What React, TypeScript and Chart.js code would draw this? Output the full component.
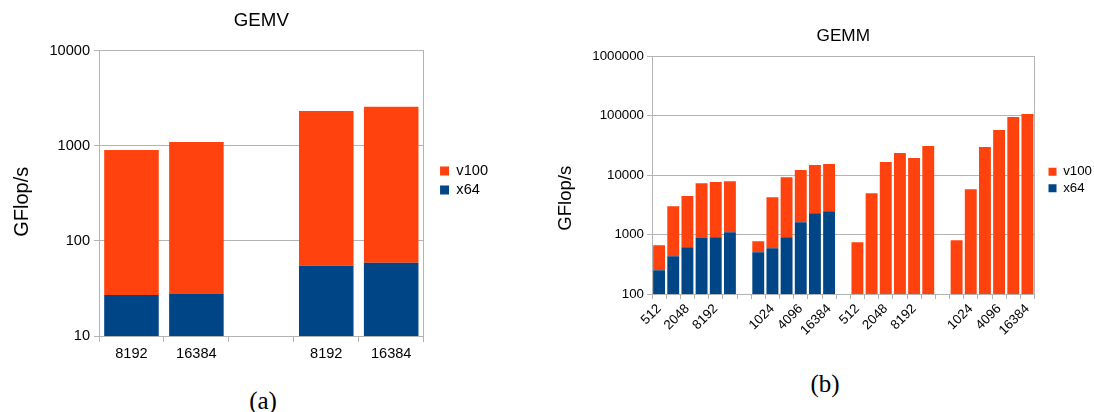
import React, { useEffect, useRef } from 'react';
import { Chart, registerables } from 'chart.js';

Chart.register(...registerables);

// ---------- data ----------
const gemvLabels = ['8192', '16384', '', '8192', '16384'];
const gemvX64 = [27, 28, null, 55, 59];
const gemvV100 = [880, 1070, null, 2280, 2520];
const gemvYTicks = [10, 100, 1000, 10000];

const gemmLabels = [
  '512', '1024', '2048', '4096', '8192', '16384', '',
  '512', '1024', '2048', '4096', '8192', '16384', '',
  '512', '1024', '2048', '4096', '8192', '16384', '',
  '512', '1024', '2048', '4096', '8192', '16384',
];
const gemmX64 = [
  250, 430, 610, 870, 900, 1095, null,
  503, 587, 896, 1605, 2280, 2460, null,
  null, null, null, null, null, null, null,
  null, null, null, null, null, null,
];
const gemmV100 = [
  410, 2570, 3810, 6430, 6700, 6800, null,
  267, 3660, 8300, 10500, 12400, 12840, null,
  740, 4950, 16500, 23400, 19300, 30700, null,
  800, 5780, 29500, 57000, 94500, 106000,
];
const gemmYTicks = [100, 1000, 10000, 100000, 1000000];

const seriesNames = ['x64', 'v100'];

// ---------- style ----------
const BLUE = '#004586';
const ORANGE = '#ff420e';
const GRID = '#b3b3b3';
const FONT = "'Liberation Sans', Arial, sans-serif";

type Spec = {
  labels: string[];
  x64: (number | null)[];
  v100: (number | null)[];
  yTicks: number[];
  title: string;
  titleSize: number;
  titlePad: { top: number; bottom: number };
  tickSize: number;
  axisTitle: string;
  axisTitleSize: number;
  axisTitlePad: number;
  yWidth: number;
  xHeight: number;
  xTickLen: number;
  xPad: number;
  yPad: number;
  rotate: number;
  everyOther: boolean;
  rightGap: number;
  legendBox: number;
  legendPad: number;
};

function build(canvas: HTMLCanvasElement, s: Spec) {
  return new Chart(canvas, {
    type: 'bar',
    data: {
      labels: s.labels,
      datasets: [
        {
          label: seriesNames[0],
          data: s.x64 as any,
          backgroundColor: BLUE,
          borderWidth: 0,
          barPercentage: 0.84,
          categoryPercentage: 1,
        },
        {
          label: seriesNames[1],
          data: s.v100 as any,
          backgroundColor: ORANGE,
          borderWidth: 0,
          barPercentage: 0.84,
          categoryPercentage: 1,
        },
      ],
    },
    options: {
      responsive: false,
      animation: false,
      layout: { padding: 0 },
      plugins: {
        title: {
          display: true,
          text: s.title,
          fullSize: false,
          color: '#000',
          font: { family: FONT, size: s.titleSize, weight: 'normal', lineHeight: 1.2 },
          padding: s.titlePad,
        },
        legend: {
          position: 'right',
          reverse: true,
          align: 'center',
          labels: {
            boxWidth: s.legendBox,
            boxHeight: s.legendBox,
            padding: s.legendPad,
            color: '#000',
            font: { family: FONT, size: s.tickSize },
          },
        },
        tooltip: { enabled: false },
      },
      scales: {
        x: {
          stacked: true,
          grid: {
            offset: true,
            drawOnChartArea: false,
            drawTicks: true,
            tickLength: s.xTickLen,
            color: GRID,
          },
          border: { display: true, color: GRID },
          ticks: {
            color: '#000',
            font: { family: FONT, size: s.tickSize },
            padding: s.xPad,
            autoSkip: false,
            minRotation: s.rotate,
            maxRotation: s.rotate,
            callback: function (this: any, value: any, index: number) {
              if (s.everyOther && index % 2 !== 0) return '';
              return this.getLabelForValue(value);
            },
          },
          afterFit: (sc: any) => {
            sc.height = s.xHeight;
          },
        },
        y: {
          type: 'logarithmic',
          stacked: true,
          min: s.yTicks[0],
          max: s.yTicks[s.yTicks.length - 1],
          grid: { color: GRID, tickLength: 5 },
          border: { display: true, color: GRID },
          ticks: {
            color: '#000',
            font: { family: FONT, size: s.tickSize },
            padding: s.yPad,
            callback: (v: any) => String(v),
          },
          title: {
            display: true,
            text: s.axisTitle,
            color: '#000',
            font: { family: FONT, size: s.axisTitleSize, lineHeight: 1.2 },
            padding: { top: s.axisTitlePad, bottom: 0 },
          },
          afterBuildTicks: (sc: any) => {
            sc.ticks = s.yTicks.map((v) => ({ value: v }));
          },
          afterFit: (sc: any) => {
            sc.width = s.yWidth;
          },
        },
        y2: {
          type: 'linear',
          position: 'right',
          display: true,
          grid: { drawOnChartArea: false, drawTicks: false },
          border: { display: true, color: GRID },
          ticks: { display: false },
          afterFit: (sc: any) => {
            sc.width = s.rightGap;
          },
        },
      },
    } as any,
  });
}

function ChartCanvas(props: { left: number; width: number; height: number; spec: Spec }) {
  const ref = useRef<HTMLCanvasElement>(null);
  useEffect(() => {
    const c = build(ref.current!, props.spec);
    return () => c.destroy();
  }, []);
  return (
    <canvas
      ref={ref}
      width={props.width}
      height={props.height}
      style={{ position: 'absolute', left: props.left, top: 0, width: props.width, height: props.height }}
    />
  );
}

const gemvSpec: Spec = {
  labels: gemvLabels,
  x64: gemvX64,
  v100: gemvV100,
  yTicks: gemvYTicks,
  title: 'GEMV',
  titleSize: 18.7,
  titlePad: { top: 9.5, bottom: 19 },
  tickSize: 14.6,
  axisTitle: 'GFlop/s   ',
  axisTitleSize: 20,
  axisTitlePad: 10,
  yWidth: 99,
  xHeight: 25,
  xTickLen: 6,
  xPad: 3,
  yPad: 4,
  rotate: 0,
  everyOther: false,
  rightGap: 12,
  legendBox: 9,
  legendPad: 4.4,
};

const gemmSpec: Spec = {
  labels: gemmLabels,
  x64: gemmX64,
  v100: gemmV100,
  yTicks: gemmYTicks,
  title: 'GEMM',
  titleSize: 17.2,
  titlePad: { top: 25.7, bottom: 9.7 },
  tickSize: 13.3,
  axisTitle: 'GFlop/s         ',
  axisTitleSize: 18.6,
  axisTitlePad: 14.4,
  yWidth: 112,
  xHeight: 66,
  xTickLen: 5,
  xPad: 2,
  yPad: 3,
  rotate: 45,
  everyOther: true,
  rightGap: 10.7,
  legendBox: 8,
  legendPad: 3.3,
};

const captionStyle: React.CSSProperties = {
  position: 'absolute',
  fontFamily: "'Liberation Serif', 'DejaVu Serif', serif",
  fontSize: 25,
  lineHeight: 1,
  transform: 'translate(-50%, -50%)',
  color: '#000',
  whiteSpace: 'nowrap',
};

export default function App() {
  return (
    <div
      style={{
        position: 'fixed',
        left: 0,
        top: 0,
        width: 1094,
        height: 412,
        overflow: 'hidden',
        background: '#fff',
      }}
    >
      <ChartCanvas left={0} width={498} height={361} spec={gemvSpec} />
      <ChartCanvas left={540} width={562} height={360} spec={gemmSpec} />
      <div style={{ ...captionStyle, left: 263, top: 400 }}>(a)</div>
      <div style={{ ...captionStyle, left: 825, top: 383 }}>(b)</div>
    </div>
  );
}
